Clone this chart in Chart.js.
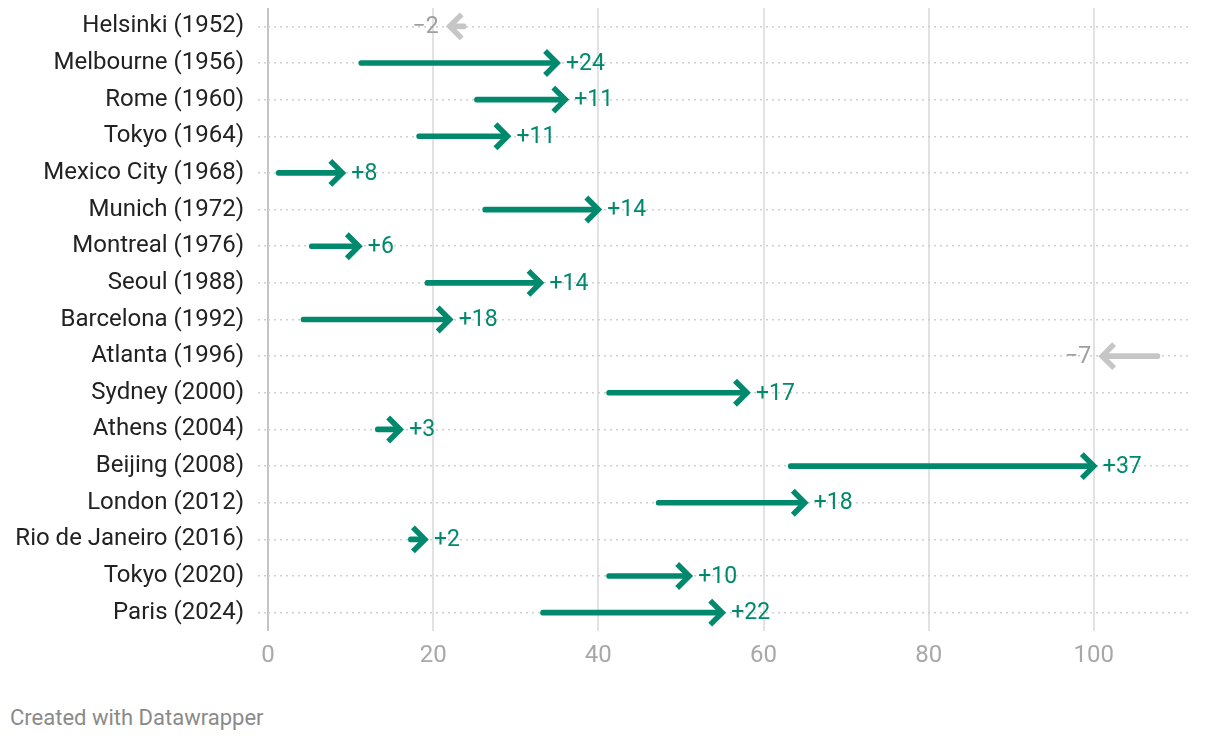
<!DOCTYPE html>
<html>
<head>
<meta charset="utf-8">
<script src="https://cdn.jsdelivr.net/npm/chart.js@4.4.1/dist/chart.umd.min.js"></script>
<style>
  body { margin: 0; background: #fff; font-family: Roboto, sans-serif; }
  #wrap { position: relative; width: 1220px; height: 680px; }
  #footer { position: absolute; left: 10px; top: 705px; font-size: 22px; color: #8a8a8a; }
</style>
</head>
<body>
<div id="wrap"><canvas id="chart" width="1220" height="680"></canvas></div>
<div id="footer">Created with Datawrapper</div>
<script>
const categories = [
    'Helsinki (1952)', 'Melbourne (1956)', 'Rome (1960)', 'Tokyo (1964)',
    'Mexico City (1968)', 'Munich (1972)', 'Montreal (1976)', 'Seoul (1988)',
    'Barcelona (1992)', 'Atlanta (1996)', 'Sydney (2000)', 'Athens (2004)',
    'Beijing (2008)', 'London (2012)', 'Rio de Janeiro (2016)', 'Tokyo (2020)',
    'Paris (2024)'
];
const startValues = [24, 11, 25, 18, 1, 26, 5, 19, 4, 108, 41, 13, 63, 47, 17, 41, 33];
const endValues   = [22, 35, 36, 29, 9, 40, 11, 33, 22, 101, 58, 16, 100, 65, 19, 51, 55];
const xTicks = [0, 20, 40, 60, 80, 100];

const GREEN = '#00896d';
const GREY = '#c6c6c6';
const GREY_TEXT = '#9e9e9e';

const colors = startValues.map((s, i) => endValues[i] >= s ? GREEN : GREY);

// chevron heads + change labels, placed from the x scale
const arrowHeads = {
    id: 'arrowHeads',
    afterDatasetsDraw(chart) {
        const ctx = chart.ctx;
        const xs = chart.scales.x;
        const ys = chart.scales.y;
        ctx.save();
        categories.forEach((cat, i) => {
            const diff = endValues[i] - startValues[i];
            const up = diff >= 0;
            const tip = xs.getPixelForValue(endValues[i]);
            const y = ys.getPixelForValue(i);
            const dir = up ? 1 : -1;
            ctx.strokeStyle = colors[i];
            ctx.lineWidth = 5.5;
            ctx.lineJoin = 'miter';
            ctx.lineCap = 'butt';
            ctx.beginPath();
            ctx.moveTo(tip - dir * 12, y - 12);
            ctx.lineTo(tip, y);
            ctx.lineTo(tip - dir * 12, y + 12);
            ctx.stroke();

            ctx.font = '23px Roboto';
            ctx.textBaseline = 'middle';
            if (up) {
                ctx.fillStyle = GREEN;
                ctx.textAlign = 'left';
                ctx.fillText('+' + diff, tip + 9, y + 1);
            } else {
                ctx.fillStyle = GREY_TEXT;
                ctx.textAlign = 'right';
                ctx.fillText('\u2212' + Math.abs(diff), tip - 11, y + 1);
            }
        });
        ctx.restore();
    }
};

new Chart(document.getElementById('chart'), {
    type: 'bar',
    data: {
        labels: categories,
        datasets: [{
            data: startValues.map((s, i) => [s, endValues[i]]),
            backgroundColor: colors,
            barThickness: 5,
            borderRadius: 3,
            borderSkipped: false
        }]
    },
    options: {
        indexAxis: 'y',
        responsive: false,
        animation: false,
        layout: { padding: { top: 8, right: 32, left: 0, bottom: 0 } },
        plugins: { legend: { display: false }, tooltip: { enabled: false } },
        scales: {
            x: {
                min: 0,
                max: 111.4,
                afterBuildTicks: (scale) => { scale.ticks = xTicks.map(v => ({ value: v })); },
                afterFit: (scale) => { scale.height = 49; },
                border: { display: false },
                grid: {
                    drawTicks: false,
                    color: (c) => c.tick && c.tick.value === 0 ? '#c4c4c4' : '#e2e2e2',
                    lineWidth: 2
                },
                ticks: { padding: 11, color: '#a8a8a8', font: { family: 'Roboto', size: 24 } }
            },
            y: {
                afterFit: (scale) => {
                    scale.width = 268;
                    scale.paddingTop = 0;
                    scale.paddingBottom = 0;
                },
                border: { display: false, dash: [2, 4] },
                grid: {
                    offset: false,
                    color: '#cfcfcf',
                    lineWidth: 1.5,
                    drawTicks: true,
                    tickLength: 10,
                    tickColor: '#cfcfcf',
                    tickBorderDash: [2, 4]
                },
                ticks: { padding: 14, color: '#222', font: { family: 'Roboto', size: 24 } }
            }
        }
    },
    plugins: [arrowHeads]
});
</script>
</body>
</html>
